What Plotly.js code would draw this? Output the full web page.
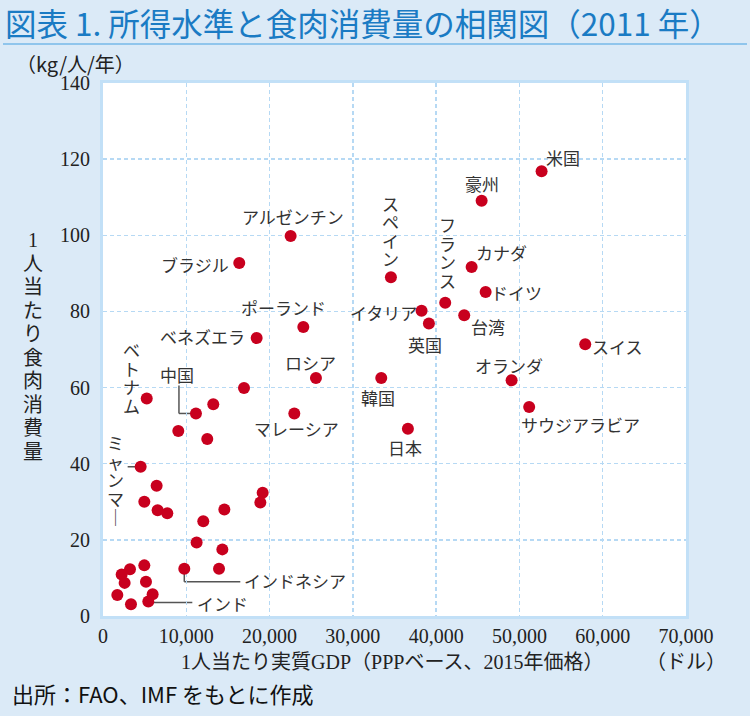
<!DOCTYPE html>
<html>
<head>
<meta charset="utf-8">
<script src="https://cdn.plot.ly/plotly-3.0.1.min.js"></script>
<style>
body { margin: 0; background: #dbeaf7; }
#plot { width: 750px; height: 716px; }
</style>
</head>
<body>
<div id="plot"></div>
<script>
// labelled countries: real GDP per head (USD, PPP 2015) and meat kg per head
let countries = ['米国', '豪州', 'スペイン', 'カナダ', 'ドイツ', 'フランス', 'イタリア', '台湾', '英国',
    'スイス', 'オランダ', '韓国', 'サウジアラビア', '日本', 'アルゼンチン', 'ブラジル', 'ポーランド',
    'ベネズエラ', 'ロシア', '中国', 'ベトナム', 'マレーシア', 'ミャンマー', 'インドネシア', 'インド'];
let gdp = [52660, 45460, 34570, 44260, 45940, 41090, 38250, 43370, 39130,
    57900, 49060, 33410, 51170, 36610, 22530, 16360, 24050,
    18450, 25570, 11160, 5250, 22970, 4520, 9760, 5440];
let meat = [116.8, 109.1, 89.0, 91.7, 85.1, 82.3, 80.2, 79.0, 76.8,
    71.4, 61.9, 62.5, 54.9, 49.2, 99.8, 92.7, 75.9,
    73.0, 62.5, 53.2, 57.1, 53.2, 39.2, 12.4, 3.8];

// countries without a name on the chart
let otherGdp = [16930, 13240, 9040, 12520, 6440, 4960, 6560, 7720, 19170, 18890, 14570, 12040,
    11240, 14330, 13930, 4960, 3240, 2240, 2600, 5160, 1720, 5960, 3360];
let otherMeat = [59.9, 55.6, 48.6, 46.5, 34.2, 30.0, 27.8, 27.0, 32.4, 29.8, 28.0, 24.9,
    19.3, 17.5, 12.4, 13.3, 12.3, 10.9, 8.7, 9.0, 5.5, 5.7, 3.1];

let xTickVals = [0, 10000, 20000, 30000, 40000, 50000, 60000, 70000];
let xTickText = ['0', '10,000', '20,000', '30,000', '40,000', '50,000', '60,000', '70,000'];
let yTickVals = [0, 20, 40, 60, 80, 100, 120, 140];

// where each name sits, in pixels from its dot
let labelPos = {
    '米国': {dx: 21, dy: -14},
    '豪州': {dx: 0, dy: -17},
    'スペイン': {dx: 0, dy: -74, vertical: true},
    'カナダ': {dx: 30, dy: -14},
    'ドイツ': {dx: 31, dy: 0},
    'フランス': {dx: 2, dy: -78, vertical: true},
    'イタリア': {dx: -38, dy: 2},
    '台湾': {dx: 24, dy: 11},
    '英国': {dx: -4, dy: 21},
    'スイス': {dx: 32, dy: 2},
    'オランダ': {dx: -3, dy: -15},
    '韓国': {dx: -3, dy: 19},
    'サウジアラビア': {dx: 51, dy: 18},
    '日本': {dx: -3, dy: 19},
    'アルゼンチン': {dx: 2, dy: -20},
    'ブラジル': {dx: -44, dy: 1},
    'ポーランド': {dx: -20, dy: -20},
    'ベネズエラ': {dx: -54, dy: -2},
    'ロシア': {dx: -5, dy: -16},
    '中国': {dx: -19, dy: -39},
    'ベトナム': {dx: -15, dy: -49, vertical: true},
    'マレーシア': {dx: 2, dy: 15},
    'ミャンマー': {dx: -25, dy: -24, vertical: true},
    'インドネシア': {dx: 58, dy: 12, anchor: 'left'},
    'インド': {dx: 47, dy: 2, anchor: 'left'}
};

// leader lines, pixel points from the dot (screen y down)
let leaders = [
    {name: '中国', pts: [[-17, -28], [-17, 0], [0, 0]]},
    {name: 'ミャンマー', pts: [[-13, 0], [0, 0]]},
    {name: 'インドネシア', pts: [[0, 0], [0, 13], [56, 13]]},
    {name: 'インド', pts: [[0, 1], [44, 1]]}
];

let W = 750, H = 716;
let mL = 103, mR = 64, mT = 83, mB = 100;
let plotW = W - mL - mR, plotH = H - mT - mB;

let jp = 'Noto Sans CJK JP, sans-serif';
let serif = 'Liberation Serif, Noto Sans CJK JP, serif';
let vStep = 18.5;

let annotations = [];
let shapes = [];

countries.forEach((name, i) => {
    let p = labelPos[name];
    if (p.vertical) {
        Array.from(name).forEach((ch, k) => {
            annotations.push({
                x: gdp[i], y: meat[i], xref: 'x', yref: 'y',
                text: ch === 'ー' ? '｜' : ch,
                showarrow: false,
                xanchor: 'center', yanchor: 'middle',
                xshift: p.dx, yshift: -(p.dy + k * vStep),
                font: {family: jp, size: 17, color: '#333'}
            });
        });
    } else {
        annotations.push({
            x: gdp[i], y: meat[i], xref: 'x', yref: 'y',
            text: name,
            showarrow: false,
            xanchor: p.anchor || 'center', yanchor: 'middle',
            xshift: p.dx, yshift: -p.dy,
            font: {family: jp, size: 17, color: '#333'}
        });
    }
});

leaders.forEach(l => {
    let i = countries.indexOf(l.name);
    for (let k = 0; k < l.pts.length - 1; k++) {
        shapes.push({
            type: 'line', layer: 'below',
            xref: 'x', yref: 'y',
            xsizemode: 'pixel', ysizemode: 'pixel',
            xanchor: gdp[i], yanchor: meat[i],
            x0: l.pts[k][0], x1: l.pts[k + 1][0],
            y0: -l.pts[k][1], y1: -l.pts[k + 1][1],
            line: {color: '#555', width: 1.5}
        });
    }
});

// rule under the title
shapes.push({
    type: 'line', xref: 'paper', yref: 'paper',
    x0: (3 - mL) / plotW, x1: (747 - mL) / plotW,
    y0: (H - mB - 44) / plotH, y1: (H - mB - 44) / plotH,
    line: {color: '#8fc5ec', width: 2}
});

// y title written vertically
Array.from('1人当たり食肉消費量').forEach((ch, k) => {
    annotations.push({
        x: 0, y: 1, xref: 'paper', yref: 'paper',
        text: ch, showarrow: false,
        xanchor: 'center', yanchor: 'middle',
        xshift: 33 - mL, yshift: -(240 - mT) - k * 23.5,
        font: {family: serif, size: 20, color: '#222'}
    });
});

annotations.push({
    x: 0, y: 1, xref: 'paper', yref: 'paper',
    text: '（kg/人/年）', showarrow: false,
    xanchor: 'center', yanchor: 'middle',
    xshift: 75 - mL, yshift: mT - 63,
    font: {family: jp, size: 20, color: '#222'}
});
annotations.push({
    x: (392 - mL) / plotW, y: 0, xref: 'paper', yref: 'paper',
    text: '1人当たり実質GDP（PPPベース、2015年価格）', showarrow: false,
    xanchor: 'center', yanchor: 'middle', yshift: -46,
    font: {family: serif, size: 20, color: '#222'}
});
annotations.push({
    x: 1, y: 0, xref: 'paper', yref: 'paper',
    text: '（ドル）', showarrow: false,
    xanchor: 'center', yanchor: 'middle', yshift: -46,
    font: {family: serif, size: 20, color: '#222'}
});
annotations.push({
    x: 0, y: 0, xref: 'paper', yref: 'paper',
    text: '出所：FAO、IMF をもとに作成', showarrow: false,
    xanchor: 'left', yanchor: 'middle',
    xshift: 10 - mL, yshift: -(693 - (H - mB)),
    font: {family: jp, size: 22, color: '#111'}
});

var data = [{
    x: gdp.concat(otherGdp),
    y: meat.concat(otherMeat),
    type: 'scatter',
    mode: 'markers',
    marker: {color: '#c8001e', size: 12},
    hoverinfo: 'skip'
}];

var layout = {
    width: W,
    height: H,
    margin: {l: mL, r: mR, t: mT, b: mB, pad: 0},
    paper_bgcolor: '#dbeaf7',
    plot_bgcolor: '#ffffff',
    showlegend: false,
    title: {
        text: '図表 1. 所得水準と食肉消費量の相関図（2011 年）',
        x: 5 / W, xref: 'container', xanchor: 'left',
        y: 1 - 25 / H, yref: 'container', yanchor: 'middle',
        font: {family: jp, size: 31.5, color: '#1a7bc4'}
    },
    xaxis: {
        range: [0, 70000],
        tickvals: xTickVals,
        ticktext: xTickText,
        ticks: '',
        showgrid: true,
        gridcolor: '#b6d9f4',
        griddash: '4px,3px',
        gridwidth: 1.5,
        zeroline: false,
        showline: true,
        linecolor: '#c2e0f7',
        linewidth: 3,
        mirror: true,
        tickfont: {family: serif, size: 20, color: '#222'},
        fixedrange: true
    },
    yaxis: {
        range: [0, 140],
        tickvals: yTickVals,
        ticks: '',
        ticklabelstandoff: 6,
        showgrid: true,
        gridcolor: '#b6d9f4',
        griddash: '4px,3px',
        gridwidth: 1.5,
        zeroline: false,
        showline: true,
        linecolor: '#c2e0f7',
        linewidth: 3,
        mirror: true,
        tickfont: {family: serif, size: 20, color: '#222'},
        fixedrange: true
    },
    annotations: annotations,
    shapes: shapes
};

Plotly.newPlot('plot', data, layout, {displayModeBar: false, staticPlot: true});
</script>
</body>
</html>
